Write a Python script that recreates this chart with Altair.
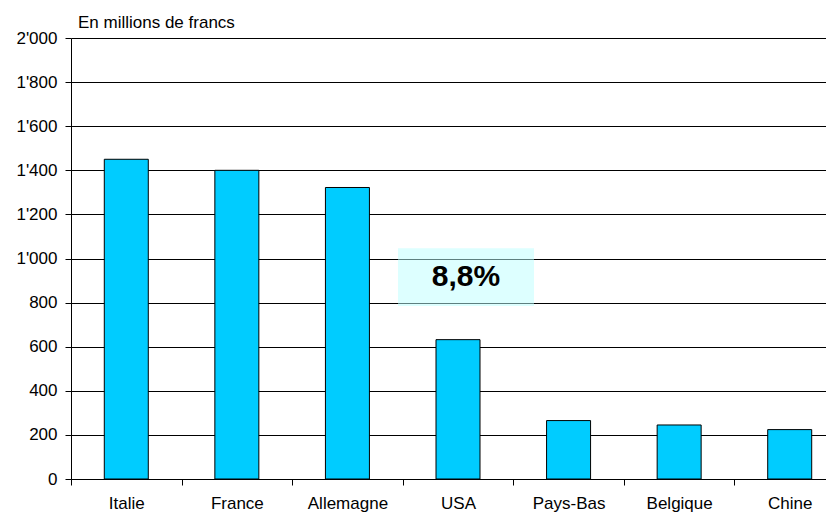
import altair as alt
import pandas as pd

pays = ["Italie", "France", "Allemagne", "USA", "Pays-Bas", "Belgique", "Chine"]
valeurs = [1450, 1400, 1322, 632, 265, 245, 224]

note_cat = ["USA"]
note_bas = [785]
note_haut = [1047]
note_texte = ["8,8%"]

titre = ["En millions de francs"]

df = pd.DataFrame({"pays": pays, "valeur": valeurs})
note = pd.DataFrame({"pays": note_cat, "bas": note_bas, "haut": note_haut,
                     "mid": [(a + b) / 2 for a, b in zip(note_bas, note_haut)],
                     "texte": note_texte})
tdf = pd.DataFrame({"t": titre})

FONT = "Liberation Sans"
FS = 17

x = alt.X("pays:N", sort=pays, title=None,
          scale=alt.Scale(paddingInner=0, paddingOuter=0, range=[0, 774]),
          axis=alt.Axis(labelAngle=0, tickBand="extent", domainColor="black",
                        tickColor="black", tickSize=6, labelPadding=10,
                        labelFont=FONT, labelFontSize=FS, labelColor="black",
                        grid=False))

bars = alt.Chart(df).mark_bar(size=44, color="#00CCFF", stroke="black",
                              strokeWidth=1).encode(
    x=x,
    y=alt.Y("valeur:Q", title=None,
            scale=alt.Scale(domain=[0, 2000], nice=False),
            axis=alt.Axis(values=list(range(0, 2001, 200)), grid=True,
                          gridColor="black", gridOpacity=1, gridWidth=1,
                          domainColor="black", tickColor="black", tickSize=6,
                          labelPadding=8, labelFont=FONT, labelFontSize=FS,
                          labelColor="black",
                          labelExpr="replace(format(datum.value, ','), ',', \"'\")"))
)

box = alt.Chart(note).mark_bar(size=136, xOffset=8, fill="#BBFFFF",
                               opacity=0.5).encode(
    x=alt.X("pays:N", sort=pays),
    y="bas:Q",
    y2="haut:Q",
)

txt = alt.Chart(note).mark_text(xOffset=8, font=FONT, fontSize=30,
                                fontWeight="bold", color="black",
                                baseline="middle", align="center").encode(
    x=alt.X("pays:N", sort=pays),
    y="mid:Q",
    text="texte:N",
)

title_txt = alt.Chart(tdf).mark_text(font=FONT, fontSize=FS, color="black",
                                     align="left", baseline="alphabetic").encode(
    x=alt.value(7),
    y=alt.value(-10),
    text="t:N",
)

chart = alt.layer(bars, box, txt, title_txt).properties(
    width=755,
    height=441,
    autosize=alt.AutoSizeParams(type="none"),
    padding={"left": 63, "top": 30, "right": 0, "bottom": 35},
).configure_view(stroke=None)

chart.save("out.html", embed_options={"renderer": "svg", "actions": False})
